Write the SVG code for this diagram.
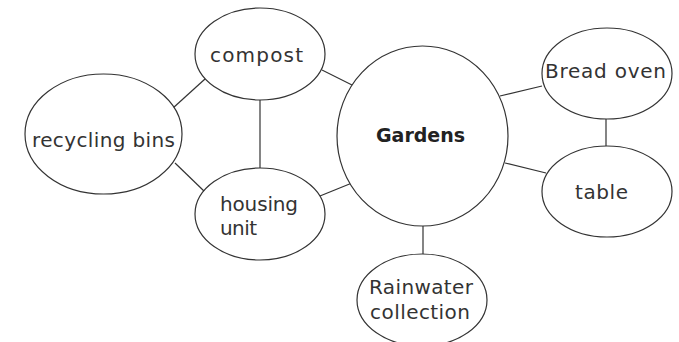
<svg xmlns="http://www.w3.org/2000/svg" width="679" height="342" viewBox="0 0 679 342">
<style>
.n{fill:#fff;stroke:#333;stroke-width:1.2}
.c line{stroke:#333;stroke-width:1.2}
text{font-family:"DejaVu Sans","Liberation Sans",sans-serif;font-size:20px;fill:#333}
.b{font-weight:bold;font-size:19px;fill:#222}
</style>
<rect width="679" height="342" fill="#fff"/>
<g class="c" id="connectors">
<line x1="173" y1="108" x2="205" y2="79"/>
<line x1="260" y1="100" x2="260" y2="168"/>
<line x1="175" y1="163" x2="205" y2="192"/>
<line x1="322" y1="70" x2="352" y2="85"/>
<line x1="315" y1="198" x2="352" y2="183"/>
<line x1="500" y1="96" x2="542" y2="86"/>
<line x1="606" y1="119" x2="606" y2="146"/>
<line x1="505" y1="163" x2="546" y2="173"/>
<line x1="423" y1="226" x2="423" y2="254"/>
</g>
<g id="compost"><ellipse class="n" cx="260" cy="54" rx="65" ry="46"/><text x="210" y="62" textLength="93">compost</text></g>
<g id="recycling"><ellipse class="n" cx="103.5" cy="134" rx="78.5" ry="60"/><text x="32" y="147" textLength="143">recycling bins</text></g>
<g id="housing"><ellipse class="n" cx="260" cy="214" rx="65" ry="46"/><text x="220" y="211" textLength="78">housing</text><text x="220" y="235" textLength="37">unit</text></g>
<g id="gardens"><ellipse class="n" cx="422.5" cy="136" rx="85.5" ry="90"/><text class="b" x="376" y="142" textLength="89">Gardens</text></g>
<g id="bread"><ellipse class="n" cx="607" cy="73.5" rx="65" ry="45.5"/><text x="545" y="78" textLength="121">Bread oven</text></g>
<g id="table"><ellipse class="n" cx="607" cy="191.5" rx="65" ry="45.5"/><text x="575" y="199" textLength="53">table</text></g>
<g id="rainwater"><ellipse class="n" cx="422" cy="300" rx="65" ry="46"/><text x="369" y="294" textLength="104">Rainwater</text><text x="370" y="319" textLength="100">collection</text></g>
</svg>
